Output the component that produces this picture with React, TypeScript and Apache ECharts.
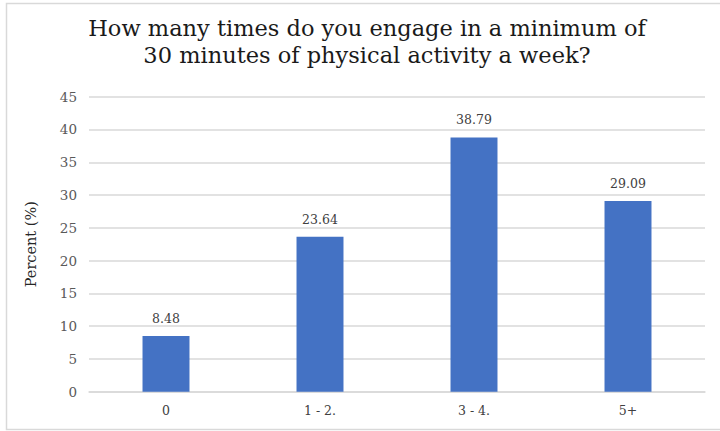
import React, { useEffect, useRef } from "react";
import * as echarts from "echarts";

// Weekly sessions of 30+ minutes of physical activity, share of respondents (%)
const categories = ["0", "1 - 2.", "3 - 4.", "5+"];
const percents = [8.48, 23.64, 38.79, 29.09];
const yTicks = { min: 0, max: 45, interval: 5 };

const titleLines = [
  "How many times do you engage in a minimum of",
  "30 minutes of physical activity a week?",
];
const yAxisName = "Percent (%)";

const SERIF = "DejaVu Serif";

export default function App() {
  const ref = useRef<HTMLDivElement>(null);

  useEffect(() => {
    if (!ref.current) return;
    const chart = echarts.init(ref.current, null, { renderer: "svg" });
    const titleText = (text: string, y: number) => ({
      type: "text",
      silent: true,
      x: 367,
      y,
      style: {
        text,
        fontFamily: SERIF,
        fontSize: 22.5,
        fill: "#1a1a1a",
        textAlign: "center",
        textVerticalAlign: "middle",
      },
    });
    chart.setOption({
      animation: false,
      backgroundColor: "#ffffff",
      textStyle: { fontFamily: SERIF },
      graphic: [
        {
          type: "rect",
          silent: true,
          shape: { x: 6.5, y: 3.5, width: 720, height: 426 },
          style: { fill: "none", stroke: "#d9d9d9", lineWidth: 1.5 },
          z: -1,
        },
        titleText(titleLines[0], 28),
        titleText(titleLines[1], 55),
      ],
      grid: { left: 89, right: 15, top: 96.7, bottom: 39.3 },
      xAxis: {
        type: "category",
        data: categories,
        axisLine: { lineStyle: { color: "#d9d9d9", width: 1.5 } },
        axisTick: { show: false },
        axisLabel: {
          fontFamily: SERIF,
          fontSize: 12.5,
          color: "#404040",
          margin: 12,
        },
      },
      yAxis: {
        type: "value",
        min: yTicks.min,
        max: yTicks.max,
        interval: yTicks.interval,
        name: yAxisName,
        nameLocation: "middle",
        nameRotate: 90,
        nameGap: 51,
        nameTextStyle: {
          fontFamily: SERIF,
          fontSize: 14.5,
          color: "#262626",
        },
        axisLine: { show: false },
        axisTick: { show: false },
        axisLabel: {
          fontFamily: SERIF,
          fontSize: 13.5,
          color: "#595959",
          margin: 12,
        },
        splitLine: { lineStyle: { color: "#d9d9d9", width: 1.5 } },
      },
      series: [
        {
          type: "bar",
          data: percents,
          barWidth: "30.5%",
          itemStyle: { color: "#4472c4" },
          label: {
            show: true,
            position: "top",
            distance: 11,
            fontFamily: SERIF,
            fontSize: 12.5,
            color: "#404040",
            formatter: (p: any) => p.value.toFixed(2),
          },
        },
      ],
    });
    return () => chart.dispose();
  }, []);

  return (
    <div
      ref={ref}
      style={{ position: "fixed", left: 0, top: 0, width: 720, height: 431 }}
    />
  );
}
